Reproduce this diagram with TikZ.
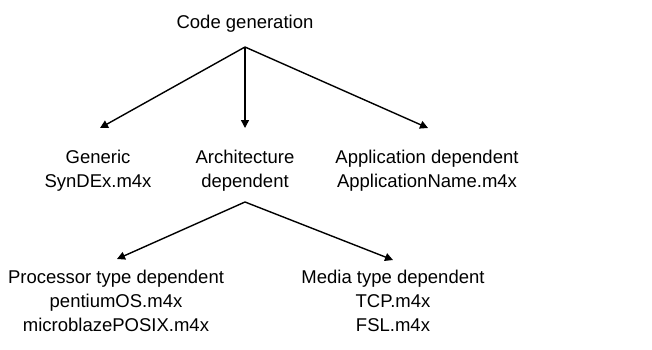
\documentclass[tikz,border=0pt]{standalone}
\usepackage{fontspec}
\setmainfont{Liberation Sans}
\usetikzlibrary{arrows.meta}
\begin{document}
\begin{tikzpicture}[x=1pt,y=-1pt,
  lbl/.style={align=center, inner sep=0pt, font=\fontsize{18.5}{24}\selectfont, anchor=base},
  arr/.style={line width=1.4pt, -{Triangle[length=8pt,width=8pt]}}]
\useasboundingbox (0,0) rectangle (652,349);
\node[lbl] (cg) at (245,28) {Code generation};
\node[lbl] (gen) at (98,187) {Generic\\SynDEx.m4x};
\node[lbl] (arch) at (245,187) {Architecture\\dependent};
\node[lbl] (app) at (427,187) {Application dependent\\ApplicationName.m4x};
\node[lbl] (proc) at (116,331) {Processor type dependent\\pentiumOS.m4x\\microblazePOSIX.m4x};
\node[lbl] (media) at (393,331) {Media type dependent\\TCP.m4x\\FSL.m4x};
\coordinate (a1) at (245,47);
\coordinate (t1) at (100,128);
\coordinate (t2) at (245,128);
\coordinate (t3) at (428,128);
\coordinate (a2) at (245,202);
\coordinate (t4) at (117,259);
\coordinate (t5) at (393,260);
\draw[arr] (a1) -- (t1);
\draw[arr] (a1) -- (t2);
\draw[arr] (a1) -- (t3);
\draw[arr] (a2) -- (t4);
\draw[arr] (a2) -- (t5);
\end{tikzpicture}
\end{document}
